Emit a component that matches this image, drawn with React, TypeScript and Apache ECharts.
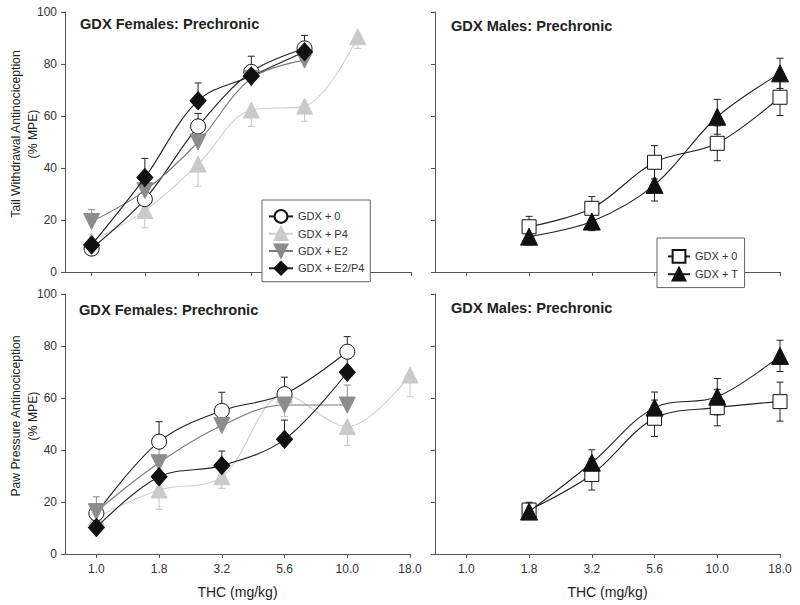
import React, { useEffect, useRef } from "react";
import * as echarts from "echarts";

// Dose tick labels (index positions on a quarter-log scale)
const doses = ["1.0", "1.8", "3.2", "5.6", "10.0", "18.0", "32.0"];

// Tail withdrawal – GDX females
const fTail0 = [9, 28, 56, 77, 86, null];
const fTail0Err = [2, 4, 5, 6, 5, null];
const fTailP4 = [12, 23.6, 41.5, 62.3, 63.8, 90.5];
const fTailP4Err = [3, 6.6, 8.5, 6.3, 5.8, 4.5];
const fTailE2 = [19.4, 31.3, 50, 74.5, 81.5, null];
const fTailE2Err = [4.6, 3, 4, 3, 3, null];
const fTailE2P4 = [10.4, 36.3, 65.9, 75.4, 84.7, null];
const fTailE2P4Err = [2, 7.4, 6.8, 3, 3, null];

// Tail withdrawal – GDX males
const mTail0 = [null, 17.4, 24.5, 42.2, 49.5, 67.2];
const mTail0Err = [null, 4, 4.5, 6.4, 6.7, 7];
const mTailT = [null, 13.6, 19.4, 33.5, 59.7, 76.4];
const mTailTErr = [null, 3.2, 3.5, 6.2, 6.7, 5.8];

// Paw pressure – GDX females
const fPaw0 = [15.6, 43.2, 55.1, 61.5, 77.8, null];
const fPaw0Err = [3, 7.7, 7.1, 6.5, 5.8, null];
const fPawP4 = [14, 24.6, 29.7, 61.2, 49, 68.8];
const fPawP4Err = [3, 7.4, 4.4, 8.4, 7.3, 8.3];
const fPawE2 = [16.3, 35.1, 49.4, 57.3, 57.3, null];
const fPawE2Err = [5.7, 6.6, 3, 3, 7.7, null];
const fPawE2P4 = [10.2, 29.7, 34, 44.1, 69.9, null];
const fPawE2P4Err = [2, 5.8, 5.6, 7.4, 7.9, null];

// Paw pressure – GDX males
const mPaw0 = [null, 16.9, 30.6, 52.2, 56.3, 58.6];
const mPaw0Err = [null, 3, 6, 7, 7, 7.5];
const mPawT = [null, 16.3, 35.1, 56.3, 60.5, 76.2];
const mPawTErr = [null, 3, 5, 6, 7, 6];

const yTicks = [0, 20, 40, 60, 80, 100];

const FONT = "'Liberation Sans', Arial, sans-serif";
const AX = "#555";

type Style = {
  name: string;
  symbol: string;
  rotate?: number;
  size: number | number[];
  fill: string;
  border: string;
  line: string;
  err: string;
};

const S_F0: Style = { name: "GDX + 0", symbol: "circle", size: 15, fill: "#fff", border: "#111", line: "#222", err: "#222" };
const S_P4: Style = { name: "GDX + P4", symbol: "triangle", size: 16, fill: "#cacaca", border: "#cacaca", line: "#cfcfcf", err: "#c4c4c4" };
const S_E2: Style = { name: "GDX + E2", symbol: "triangle", rotate: 180, size: 16, fill: "#8c8c8c", border: "#8c8c8c", line: "#7a7a7a", err: "#888" };
const S_E2P4: Style = { name: "GDX + E2/P4", symbol: "diamond", size: [16, 18], fill: "#111", border: "#111", line: "#222", err: "#222" };
const S_M0: Style = { name: "GDX + 0 ", symbol: "rect", size: 14, fill: "#fff", border: "#111", line: "#222", err: "#222" };
const S_MT: Style = { name: "GDX + T", symbol: "triangle", size: 17, fill: "#111", border: "#111", line: "#222", err: "#222" };

function pairs(vals: (number | null)[]) {
  const out: number[][] = [];
  vals.forEach((v, i) => {
    if (v !== null) out.push([i, v]);
  });
  return out;
}

function errRows(vals: (number | null)[], errs: (number | null)[], dir: "up" | "down" | "both") {
  const out: number[][] = [];
  vals.forEach((v, i) => {
    const e = errs[i];
    if (v !== null && e !== null) {
      out.push([i, v, dir === "down" ? 0 : e, dir === "up" ? 0 : e]);
    }
  });
  return out;
}

function lineSeries(st: Style, vals: (number | null)[], idx: number, z: number) {
  return {
    type: "line",
    name: st.name,
    xAxisIndex: idx,
    yAxisIndex: idx,
    data: pairs(vals),
    smooth: 0.35,
    symbol: st.symbol,
    symbolSize: st.size,
    symbolRotate: st.rotate || 0,
    showAllSymbol: true,
    z,
    lineStyle: { color: st.line, width: 1.1 },
    itemStyle: { color: st.fill, borderColor: st.border, borderWidth: 1, opacity: 1 },
    emphasis: { disabled: true },
  };
}

function errSeries(st: Style, vals: (number | null)[], errs: (number | null)[], dir: "up" | "down" | "both", idx: number) {
  const color = st.err;
  return {
    type: "custom",
    xAxisIndex: idx,
    yAxisIndex: idx,
    z: 1,
    silent: true,
    clip: false,
    encode: { x: 0, y: 1 },
    data: errRows(vals, errs, dir),
    renderItem: (_params: any, api: any) => {
      const x = api.value(0);
      const y = api.value(1);
      const up = api.value(2);
      const dn = api.value(3);
      const top = api.coord([x, y + up]);
      const bot = api.coord([x, y - dn]);
      const hw = 3.5;
      const style = { stroke: color, lineWidth: 1 };
      const children: any[] = [
        { type: "line", shape: { x1: top[0], y1: top[1], x2: bot[0], y2: bot[1] }, style },
      ];
      if (up > 0) children.push({ type: "line", shape: { x1: top[0] - hw, y1: top[1], x2: top[0] + hw, y2: top[1] }, style });
      if (dn > 0) children.push({ type: "line", shape: { x1: bot[0] - hw, y1: bot[1], x2: bot[0] + hw, y2: bot[1] }, style });
      return { type: "group", children };
    },
  };
}

function xAxis(idx: number, max: number, showLabels: boolean) {
  const ticks: number[] = [];
  for (let i = 0; i <= max; i++) ticks.push(i);
  return {
    type: "value",
    gridIndex: idx,
    min: -0.5,
    max,
    splitLine: { show: false },
    axisLine: { onZero: false, lineStyle: { color: AX, width: 1 } },
    axisTick: { show: true, length: 4, customValues: ticks, lineStyle: { color: AX } },
    axisLabel: {
      show: showLabels,
      customValues: ticks,
      margin: 9,
      fontSize: 12,
      color: "#333",
      fontFamily: FONT,
      formatter: (v: number) => doses[Math.round(v)] ?? "",
    },
    name: showLabels ? "THC (mg/kg)" : "",
    nameLocation: "middle",
    nameGap: 31,
    nameMoveOverlap: false,
    nameTextStyle: { fontSize: 14, color: "#222", fontFamily: FONT },
  };
}

function yAxis(idx: number, showLabels: boolean, name: string) {
  return {
    type: "value",
    gridIndex: idx,
    min: yTicks[0],
    max: yTicks[yTicks.length - 1],
    interval: 20,
    splitLine: { show: false },
    axisLine: { show: true, onZero: false, lineStyle: { color: AX, width: 1 } },
    axisTick: { show: true, length: 4, lineStyle: { color: AX } },
    axisLabel: { show: showLabels, margin: 8, fontSize: 12, color: "#333", fontFamily: FONT },
    name,
    nameLocation: "middle",
    nameRotate: 90,
    nameGap: 24,
    nameMoveOverlap: false,
    nameTextStyle: { fontSize: 12.2, color: "#222", fontFamily: FONT, lineHeight: 17, padding: [0, 0, 0, 16] },
  };
}

function panelTitle(text: string, left: number, top: number) {
  return {
    text,
    left,
    top,
    padding: 0,
    textStyle: { fontSize: 14.6, fontWeight: "bold", color: "#222", fontFamily: FONT },
  };
}

export default function App() {
  const ref = useRef<HTMLDivElement>(null);
  useEffect(() => {
    if (!ref.current) return;
    const chart = echarts.init(ref.current, null, { renderer: "svg" });
    const option: any = {
      animation: false,
      backgroundColor: "#fff",
      title: [
        panelTitle("GDX Females: Prechronic", 80, 16),
        panelTitle("GDX Males: Prechronic", 451, 18),
        panelTitle("GDX Females: Prechronic", 79, 302),
        panelTitle("GDX Males: Prechronic", 451, 300),
      ],
      grid: [
        { left: 65, top: 12, width: 346, height: 260 },
        { left: 435, top: 12, width: 345, height: 260 },
        { left: 65, top: 294, width: 345, height: 260 },
        { left: 435, top: 294, width: 345, height: 260 },
      ],
      xAxis: [xAxis(0, 6, false), xAxis(1, 5, false), xAxis(2, 5, true), xAxis(3, 5, true)],
      yAxis: [
        yAxis(0, true, "Tail Withdrawal Antinociception\n(% MPE)"),
        yAxis(1, false, ""),
        yAxis(2, true, "Paw Pressure Antinociception\n(% MPE)"),
        yAxis(3, false, ""),
      ],
      legend: [
        {
          data: [S_F0.name, S_P4.name, S_E2.name, S_E2P4.name],
          orient: "vertical",
          left: 262,
          top: 200,
          padding: [9, 6, 6, 6],
          itemGap: 2.5,
          itemWidth: 24,
          itemHeight: 16,
          borderColor: "#666",
          borderWidth: 1,
          borderRadius: 0,
          backgroundColor: "#fff",
          selectedMode: false,
          textStyle: { fontSize: 11, color: "#333", fontFamily: FONT },
        },
        {
          data: [S_M0.name, S_MT.name],
          orient: "vertical",
          left: 657,
          top: 238,
          padding: [11, 4, 6, 10],
          itemGap: 3,
          itemWidth: 22,
          itemHeight: 16,
          borderColor: "#666",
          borderWidth: 1,
          borderRadius: 0,
          backgroundColor: "#fff",
          selectedMode: false,
          textStyle: { fontSize: 11, color: "#333", fontFamily: FONT },
        },
      ],
      series: [
        // Top-left: tail withdrawal, females
        errSeries(S_F0, fTail0, fTail0Err, "up", 0),
        errSeries(S_P4, fTailP4, fTailP4Err, "down", 0),
        errSeries(S_E2, fTailE2, fTailE2Err, "up", 0),
        errSeries(S_E2P4, fTailE2P4, fTailE2P4Err, "up", 0),
        lineSeries(S_P4, fTailP4, 0, 2),
        lineSeries(S_F0, fTail0, 0, 3),
        lineSeries(S_E2, fTailE2, 0, 4),
        lineSeries(S_E2P4, fTailE2P4, 0, 5),
        // Top-right: tail withdrawal, males
        errSeries(S_M0, mTail0, mTail0Err, "both", 1),
        errSeries(S_MT, mTailT, mTailTErr, "both", 1),
        lineSeries(S_M0, mTail0, 1, 3),
        lineSeries(S_MT, mTailT, 1, 4),
        // Bottom-left: paw pressure, females
        errSeries(S_F0, fPaw0, fPaw0Err, "up", 2),
        errSeries(S_P4, fPawP4, fPawP4Err, "down", 2),
        errSeries(S_E2, fPawE2, fPawE2Err, "up", 2),
        errSeries(S_E2P4, fPawE2P4, fPawE2P4Err, "up", 2),
        lineSeries(S_P4, fPawP4, 2, 2),
        lineSeries(S_F0, fPaw0, 2, 3),
        lineSeries(S_E2, fPawE2, 2, 4),
        lineSeries(S_E2P4, fPawE2P4, 2, 5),
        // Bottom-right: paw pressure, males
        errSeries(S_M0, mPaw0, mPaw0Err, "both", 3),
        errSeries(S_MT, mPawT, mPawTErr, "both", 3),
        lineSeries(S_M0, mPaw0, 3, 3),
        lineSeries(S_MT, mPawT, 3, 4),
      ],
    };
    chart.setOption(option);
    return () => chart.dispose();
  }, []);
  return (
    <div
      ref={ref}
      style={{ position: "fixed", left: 0, top: 0, width: 800, height: 605, background: "#fff" }}
    />
  );
}
